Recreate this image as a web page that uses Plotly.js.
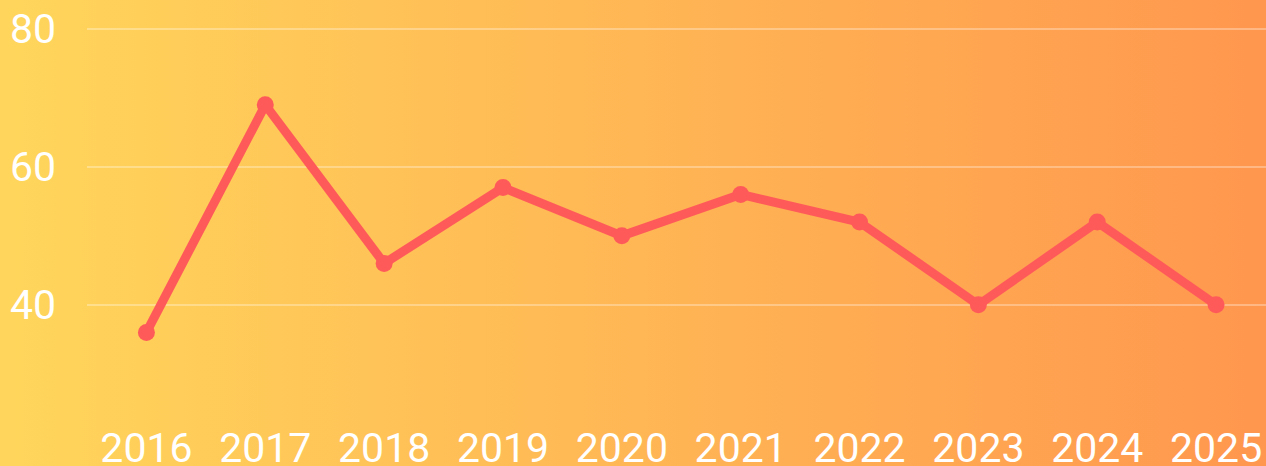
<!DOCTYPE html>
<html><head><meta charset="utf-8">
<script src="https://cdn.plot.ly/plotly-3.0.1.min.js"></script>
<style>
html,body{margin:0;padding:0;}
#chart{width:1266px;height:466px;background:linear-gradient(to right,#FFD65B,#FF974E);}
</style></head>
<body><div id="chart"></div>
<script>
const years = ['2016','2017','2018','2019','2020','2021','2022','2023','2024','2025'];
const values = [36, 69, 46, 57, 50, 56, 52, 40, 52, 40];
const yTicks = [40, 60, 80];

Plotly.newPlot('chart', [{
  x: years, y: values, type: 'scatter', mode: 'lines+markers',
  line: {color: '#FF5A5A', width: 9},
  marker: {color: '#FF5A5A', size: 17},
  hoverinfo: 'skip'
}], {
  width: 1266, height: 466,
  margin: {l: 87, r: 0, t: 0, b: 46},
  paper_bgcolor: 'rgba(0,0,0,0)', plot_bgcolor: 'rgba(0,0,0,0)',
  font: {family: 'Roboto', color: '#ffffff', size: 41},
  showlegend: false,
  xaxis: {type: 'category', range: [-0.5, 9.42], showgrid: false, zeroline: false,
          showline: false, ticks: '', tickfont: {size: 41, color: '#fff'}, fixedrange: true},
  yaxis: {range: [23.3, 84.2], tickvals: yTicks, ticktext: yTicks.map(String),
          showgrid: true, gridcolor: 'rgba(255,255,255,0.3)', gridwidth: 2,
          zeroline: false, showline: false, ticks: '', ticklabelstandoff: 30,
          tickfont: {size: 41, color: '#fff'}, fixedrange: true}
}, {displayModeBar: false, staticPlot: true});
</script></body></html>
